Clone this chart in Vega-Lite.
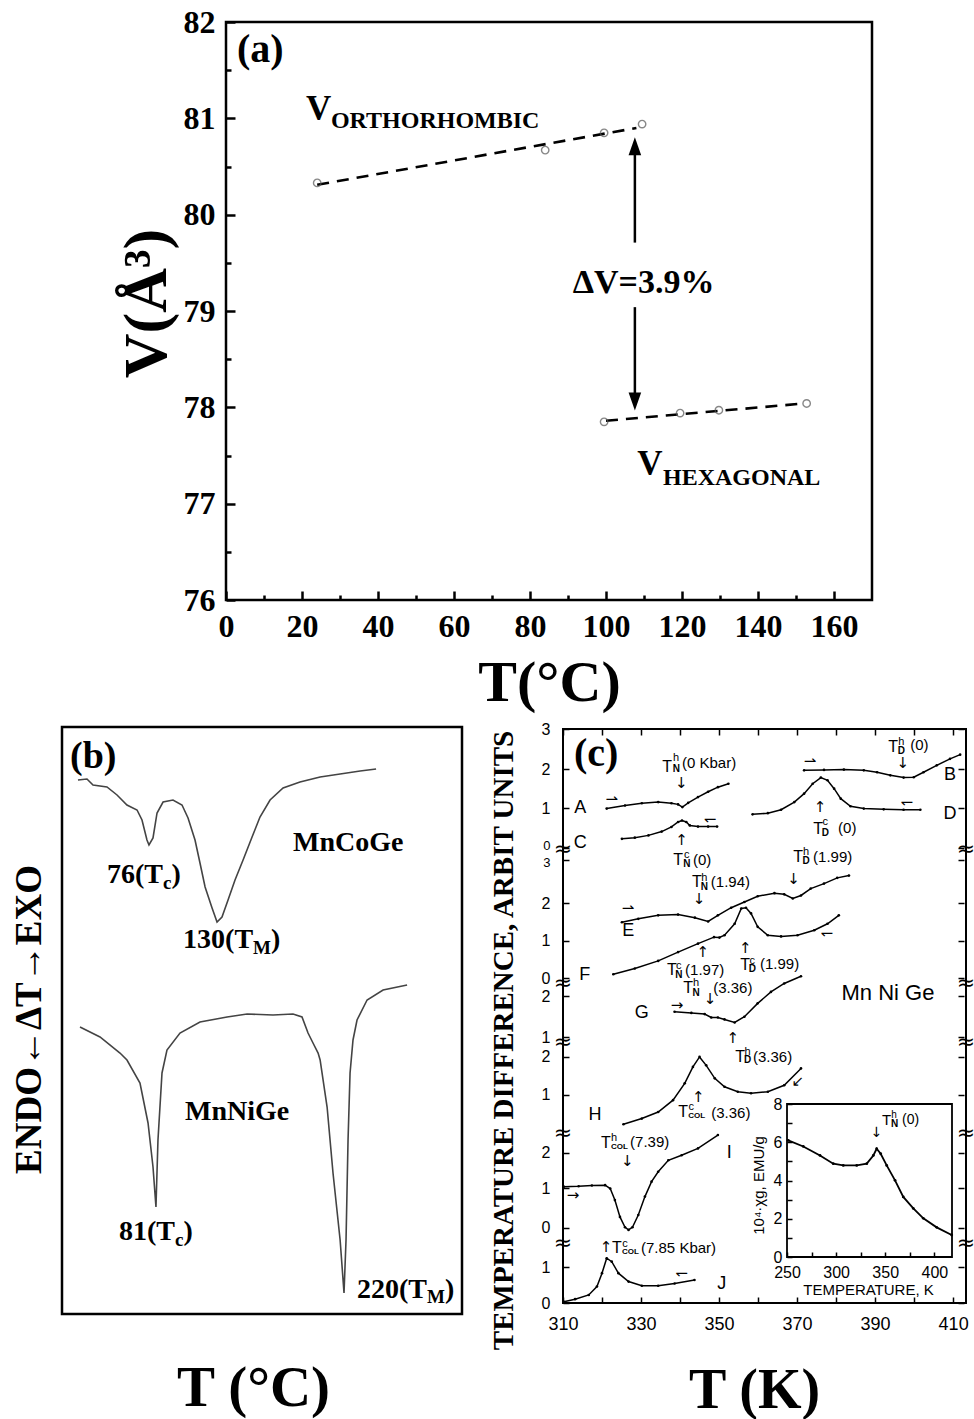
{
"$schema": "https://vega.github.io/schema/vega-lite/v6.json",
"width": 974, "height": 1419,
"autosize": {"type": "fit", "contains": "padding"},
"padding": 0,
"background": "white",
"config": {"view": {"stroke": null}, "axis": {"grid": false, "labelFlush": false, "labelOverlap": false, "labelColor": "black", "tickColor": "black", "titleColor": "black", "domainColor": "black"}},
"datasets": {
 "aPts": [
  {"T":24,"V":80.33,"phase":"ortho"},{"T":84,"V":80.67,"phase":"ortho"},{"T":99.5,"V":80.85,"phase":"ortho"},{"T":109.5,"V":80.94,"phase":"ortho"},
  {"T":99.5,"V":77.85,"phase":"hex"},{"T":119.5,"V":77.94,"phase":"hex"},{"T":129.7,"V":77.97,"phase":"hex"},{"T":152.8,"V":78.04,"phase":"hex"}],
 "aFit": [
  {"T":24,"V":80.31,"phase":"ortho"},{"T":108,"V":80.9,"phase":"ortho"},
  {"T":100,"V":77.86,"phase":"hex"},{"T":152,"V":78.04,"phase":"hex"}],
 "bCurves": [
  {"T":21.9,"v":90.97,"s":"MnCoGe"},{"T":28.6,"v":91.14,"s":"MnCoGe"},{"T":33.1,"v":90.12,"s":"MnCoGe"},{"T":43.5,"v":89.78,"s":"MnCoGe"},{"T":51.0,"v":88.42,"s":"MnCoGe"},{"T":58.4,"v":86.71,"s":"MnCoGe"},{"T":65.9,"v":85.86,"s":"MnCoGe"},{"T":69.6,"v":84.16,"s":"MnCoGe"},{"T":73.3,"v":80.75,"s":"MnCoGe"},{"T":74.8,"v":79.9,"s":"MnCoGe"},{"T":77.8,"v":81.09,"s":"MnCoGe"},{"T":80.8,"v":85.35,"s":"MnCoGe"},{"T":85.3,"v":87.22,"s":"MnCoGe"},{"T":92.7,"v":87.56,"s":"MnCoGe"},{"T":99.4,"v":86.71,"s":"MnCoGe"},{"T":103.9,"v":84.5,"s":"MnCoGe"},{"T":109.1,"v":80.75,"s":"MnCoGe"},{"T":112.8,"v":76.83,"s":"MnCoGe"},{"T":116.6,"v":72.74,"s":"MnCoGe"},{"T":121.8,"v":69.17,"s":"MnCoGe"},{"T":125.5,"v":66.78,"s":"MnCoGe"},{"T":129.2,"v":67.63,"s":"MnCoGe"},{"T":133.7,"v":70.53,"s":"MnCoGe"},{"T":138.9,"v":73.94,"s":"MnCoGe"},{"T":144.9,"v":77.34,"s":"MnCoGe"},{"T":151.6,"v":81.26,"s":"MnCoGe"},{"T":157.5,"v":84.67,"s":"MnCoGe"},{"T":165.0,"v":87.56,"s":"MnCoGe"},{"T":174.7,"v":89.61,"s":"MnCoGe"},{"T":187.3,"v":90.63,"s":"MnCoGe"},{"T":202.3,"v":91.48,"s":"MnCoGe"},{"T":217.2,"v":91.99,"s":"MnCoGe"},{"T":232.1,"v":92.5,"s":"MnCoGe"},{"T":244.0,"v":92.84,"s":"MnCoGe"},
  {"T":23.4,"v":48.89,"s":"MnNiGe"},{"T":38.3,"v":47.19,"s":"MnNiGe"},{"T":53.2,"v":44.46,"s":"MnNiGe"},{"T":58.4,"v":43.27,"s":"MnNiGe"},{"T":68.1,"v":39.35,"s":"MnNiGe"},{"T":74.1,"v":32.54,"s":"MnNiGe"},{"T":77.8,"v":25.04,"s":"MnNiGe"},{"T":80.0,"v":18.23,"s":"MnNiGe"},{"T":81.5,"v":29.64,"s":"MnNiGe"},{"T":84.5,"v":41.06,"s":"MnNiGe"},{"T":88.2,"v":44.97,"s":"MnNiGe"},{"T":97.9,"v":47.87,"s":"MnNiGe"},{"T":112.8,"v":49.74,"s":"MnNiGe"},{"T":133.0,"v":50.6,"s":"MnNiGe"},{"T":147.9,"v":51.11,"s":"MnNiGe"},{"T":167.2,"v":50.94,"s":"MnNiGe"},{"T":182.1,"v":51.11,"s":"MnNiGe"},{"T":188.8,"v":50.6,"s":"MnNiGe"},{"T":193.3,"v":47.87,"s":"MnNiGe"},{"T":197.0,"v":46.17,"s":"MnNiGe"},{"T":200.8,"v":44.46,"s":"MnNiGe"},{"T":202.3,"v":43.27,"s":"MnNiGe"},{"T":207.5,"v":35.26,"s":"MnNiGe"},{"T":211.9,"v":24.02,"s":"MnNiGe"},{"T":217.2,"v":12.61,"s":"MnNiGe"},{"T":220.1,"v":3.58,"s":"MnNiGe"},{"T":221.6,"v":12.61,"s":"MnNiGe"},{"T":223.1,"v":29.64,"s":"MnNiGe"},{"T":224.6,"v":41.06,"s":"MnNiGe"},{"T":226.8,"v":46.68,"s":"MnNiGe"},{"T":229.8,"v":50.09,"s":"MnNiGe"},{"T":237.3,"v":53.49,"s":"MnNiGe"},{"T":249.2,"v":55.2,"s":"MnNiGe"},{"T":267.1,"v":56.05,"s":"MnNiGe"}],
 "cCurves": [
  {"K":321.2,"g":12.92,"c":"A"},{"K":325.9,"g":13.0,"c":"A"},{"K":330.2,"g":13.06,"c":"A"},{"K":334.4,"g":13.09,"c":"A"},{"K":337.8,"g":13.06,"c":"A"},{"K":339.5,"g":13.03,"c":"A"},{"K":340.6,"g":12.96,"c":"A"},{"K":342.1,"g":13.07,"c":"A"},{"K":344.6,"g":13.22,"c":"A"},{"K":347.2,"g":13.36,"c":"A"},{"K":349.7,"g":13.48,"c":"A"},{"K":352.4,"g":13.57,"c":"A"},
  {"K":325.1,"g":12.13,"c":"C"},{"K":328.4,"g":12.16,"c":"C"},{"K":331.9,"g":12.22,"c":"C"},{"K":335.3,"g":12.32,"c":"C"},{"K":337.8,"g":12.44,"c":"C"},{"K":339.5,"g":12.57,"c":"C"},{"K":340.5,"g":12.61,"c":"C"},{"K":341.6,"g":12.57,"c":"C"},{"K":342.5,"g":12.48,"c":"C"},{"K":344.6,"g":12.45,"c":"C"},{"K":347.2,"g":12.45,"c":"C"},{"K":349.5,"g":12.45,"c":"C"},
  {"K":371.8,"g":13.92,"c":"B"},{"K":376.9,"g":13.93,"c":"B"},{"K":382.0,"g":13.94,"c":"B"},{"K":387.1,"g":13.92,"c":"B"},{"K":390.5,"g":13.87,"c":"B"},{"K":393.9,"g":13.79,"c":"B"},{"K":397.3,"g":13.73,"c":"B"},{"K":399.9,"g":13.74,"c":"B"},{"K":402.4,"g":13.87,"c":"B"},{"K":405.8,"g":14.05,"c":"B"},{"K":409.2,"g":14.22,"c":"B"},{"K":411.8,"g":14.33,"c":"B"},
  {"K":358.6,"g":12.77,"c":"D"},{"K":362.5,"g":12.8,"c":"D"},{"K":365.9,"g":12.89,"c":"D"},{"K":369.3,"g":13.09,"c":"D"},{"K":371.8,"g":13.31,"c":"D"},{"K":374.0,"g":13.57,"c":"D"},{"K":376.1,"g":13.73,"c":"D"},{"K":377.8,"g":13.66,"c":"D"},{"K":379.5,"g":13.44,"c":"D"},{"K":381.2,"g":13.18,"c":"D"},{"K":383.7,"g":12.98,"c":"D"},{"K":387.1,"g":12.92,"c":"D"},{"K":392.2,"g":12.9,"c":"D"},{"K":397.3,"g":12.89,"c":"D"},{"K":401.6,"g":12.89,"c":"D"},
  {"K":325.1,"g":9.95,"c":"E"},{"K":329.3,"g":10.04,"c":"E"},{"K":334.4,"g":10.13,"c":"E"},{"K":339.5,"g":10.15,"c":"E"},{"K":343.8,"g":10.07,"c":"E"},{"K":347.2,"g":9.97,"c":"E"},{"K":349.7,"g":10.13,"c":"E"},{"K":353.1,"g":10.33,"c":"E"},{"K":356.5,"g":10.48,"c":"E"},{"K":359.9,"g":10.63,"c":"E"},{"K":364.2,"g":10.71,"c":"E"},{"K":366.7,"g":10.68,"c":"E"},{"K":368.9,"g":10.57,"c":"E"},{"K":371.0,"g":10.65,"c":"E"},{"K":373.5,"g":10.83,"c":"E"},{"K":376.9,"g":10.96,"c":"E"},{"K":380.3,"g":11.11,"c":"E"},{"K":383.3,"g":11.17,"c":"E"},
  {"K":322.9,"g":8.59,"c":"F"},{"K":328.4,"g":8.74,"c":"F"},{"K":334.4,"g":8.94,"c":"F"},{"K":339.5,"g":9.17,"c":"F"},{"K":344.6,"g":9.39,"c":"F"},{"K":348.7,"g":9.56,"c":"F"},{"K":350.1,"g":9.55,"c":"F"},{"K":351.4,"g":9.61,"c":"F"},{"K":354.0,"g":9.91,"c":"F"},{"K":355.7,"g":10.31,"c":"F"},{"K":356.9,"g":10.33,"c":"F"},{"K":358.2,"g":10.18,"c":"F"},{"K":359.9,"g":9.83,"c":"F"},{"K":362.5,"g":9.61,"c":"F"},{"K":365.9,"g":9.58,"c":"F"},{"K":370.1,"g":9.61,"c":"F"},{"K":374.4,"g":9.74,"c":"F"},{"K":377.8,"g":9.91,"c":"F"},{"K":380.7,"g":10.13,"c":"F"},
  {"K":338.6,"g":7.61,"c":"G"},{"K":342.9,"g":7.58,"c":"G"},{"K":346.3,"g":7.55,"c":"G"},{"K":348.0,"g":7.46,"c":"G"},{"K":349.7,"g":7.46,"c":"G"},{"K":351.4,"g":7.41,"c":"G"},{"K":354.0,"g":7.33,"c":"G"},{"K":356.5,"g":7.48,"c":"G"},{"K":359.9,"g":7.83,"c":"G"},{"K":363.3,"g":8.13,"c":"G"},{"K":366.7,"g":8.35,"c":"G"},{"K":371.0,"g":8.54,"c":"G"},
  {"K":325.5,"g":4.67,"c":"H"},{"K":330.2,"g":4.82,"c":"H"},{"K":334.4,"g":4.99,"c":"H"},{"K":338.2,"g":5.3,"c":"H"},{"K":341.2,"g":5.74,"c":"H"},{"K":343.3,"g":6.17,"c":"H"},{"K":345.0,"g":6.43,"c":"H"},{"K":346.7,"g":6.21,"c":"H"},{"K":348.9,"g":5.87,"c":"H"},{"K":351.4,"g":5.65,"c":"H"},{"K":354.8,"g":5.52,"c":"H"},{"K":358.2,"g":5.48,"c":"H"},{"K":362.5,"g":5.52,"c":"H"},{"K":366.7,"g":5.69,"c":"H"},{"K":371.0,"g":6.13,"c":"H"},
  {"K":310.2,"g":3.04,"c":"I"},{"K":314.0,"g":3.05,"c":"I"},{"K":317.4,"g":3.07,"c":"I"},{"K":320.8,"g":3.08,"c":"I"},{"K":322.1,"g":2.99,"c":"I"},{"K":323.3,"g":2.69,"c":"I"},{"K":324.6,"g":2.25,"c":"I"},{"K":325.9,"g":1.98,"c":"I"},{"K":326.8,"g":1.91,"c":"I"},{"K":327.8,"g":1.98,"c":"I"},{"K":329.3,"g":2.3,"c":"I"},{"K":331.0,"g":2.78,"c":"I"},{"K":332.7,"g":3.17,"c":"I"},{"K":334.4,"g":3.43,"c":"I"},{"K":337.0,"g":3.73,"c":"I"},{"K":340.4,"g":3.86,"c":"I"},{"K":344.6,"g":4.04,"c":"I"},{"K":349.7,"g":4.39,"c":"I"},
  {"K":310.2,"g":0.03,"c":"J"},{"K":313.1,"g":0.1,"c":"J"},{"K":316.6,"g":0.21,"c":"J"},{"K":318.7,"g":0.43,"c":"J"},{"K":320.0,"g":0.78,"c":"J"},{"K":321.2,"g":1.17,"c":"J"},{"K":322.5,"g":1.08,"c":"J"},{"K":324.2,"g":0.78,"c":"J"},{"K":326.8,"g":0.56,"c":"J"},{"K":330.2,"g":0.45,"c":"J"},{"K":334.4,"g":0.45,"c":"J"},{"K":338.6,"g":0.51,"c":"J"},{"K":343.7,"g":0.6,"c":"J"}],
 "inset": [
  {"K":251.3,"chi":6.1},{"K":266.6,"chi":5.78},{"K":283.6,"chi":5.31},{"K":297.1,"chi":4.88},{"K":307.3,"chi":4.79},{"K":321.0,"chi":4.79},{"K":331.2,"chi":4.88},{"K":337.9,"chi":5.31},{"K":341.3,"chi":5.66},{"K":345.4,"chi":5.4},{"K":351.5,"chi":4.79},{"K":360.0,"chi":4.01},{"K":368.4,"chi":3.14},{"K":378.6,"chi":2.54},{"K":388.8,"chi":2.02},{"K":402.4,"chi":1.55},{"K":417.7,"chi":1.15}],
 "cT": [
  {"K":336.7,"g":14.01,"t":"T"},{"K":394.6,"g":14.53,"t":"T"},{"K":375.4,"g":12.39,"t":"T"},{"K":339.5,"g":11.58,"t":"T"},{"K":370.3,"g":11.66,"t":"T"},{"K":344.3,"g":11.01,"t":"T"},{"K":337.9,"g":8.7,"t":"T"},{"K":356.7,"g":8.83,"t":"T"},{"K":342.1,"g":8.22,"t":"T"},{"K":355.4,"g":6.44,"t":"T"},{"K":340.8,"g":5.0,"t":"T"},{"K":321.0,"g":4.19,"t":"T"},{"K":323.8,"g":1.43,"t":"T"}],
 "cSup": [
  {"K":339.0,"g":14.24,"t":"h"},{"K":396.7,"g":14.67,"t":"h"},{"K":377.2,"g":12.57,"t":"c"},{"K":341.7,"g":11.71,"t":"c"},{"K":372.3,"g":11.78,"t":"h"},{"K":346.2,"g":11.11,"t":"h"},{"K":339.7,"g":8.81,"t":"c"},{"K":358.5,"g":8.94,"t":"c"},{"K":344.1,"g":8.35,"t":"h"},{"K":357.3,"g":6.57,"t":"h"},{"K":342.9,"g":5.11,"t":"c"},{"K":323.1,"g":4.3,"t":"h"},{"K":325.9,"g":1.54,"t":"c"}],
 "cSub": [
  {"K":338.1,"g":13.95,"t":"N"},{"K":395.8,"g":14.42,"t":"D"},{"K":376.3,"g":12.28,"t":"D"},{"K":340.8,"g":11.47,"t":"N"},{"K":371.4,"g":11.56,"t":"D"},{"K":345.3,"g":10.88,"t":"N"},{"K":338.8,"g":8.57,"t":"N"},{"K":357.6,"g":8.72,"t":"D"},{"K":343.2,"g":8.09,"t":"N"},{"K":356.4,"g":6.35,"t":"D"}],
 "cSubCol": [
  {"K":342.1,"g":4.89,"t":"COL"},{"K":322.3,"g":4.08,"t":"COL"},{"K":325.1,"g":1.32,"t":"COL"}],
 "cRest": [
  {"K":340.5,"g":14.12,"t":"(0 Kbar)"},{"K":399.0,"g":14.58,"t":"(0)"},{"K":380.5,"g":12.41,"t":"(0)"},{"K":343.3,"g":11.58,"t":"(0)"},{"K":374.1,"g":11.66,"t":"(1.99)"},{"K":347.9,"g":11.01,"t":"(1.94)"},{"K":341.3,"g":8.7,"t":"(1.97)"},{"K":360.5,"g":8.86,"t":"(1.99)"},{"K":348.5,"g":8.22,"t":"(3.36)"},{"K":358.7,"g":6.44,"t":"(3.36)"},{"K":348.0,"g":4.96,"t":"(3.36)"},{"K":327.2,"g":4.21,"t":"(7.39)"},{"K":330.0,"g":1.43,"t":"(7.85 Kbar)"}],
 "cLetters": [
  {"K":314.4,"g":12.93,"t":"A"},{"K":314.4,"g":12.02,"t":"C"},{"K":409.2,"g":13.8,"t":"B"},{"K":409.2,"g":12.78,"t":"D"},{"K":326.7,"g":9.72,"t":"E"},{"K":315.6,"g":8.57,"t":"F"},{"K":330.2,"g":7.57,"t":"G"},{"K":318.2,"g":4.91,"t":"H"},{"K":352.6,"g":3.91,"t":"I"},{"K":350.7,"g":0.5,"t":"J"}],
 "cArrows": [
  {"K":340.3,"g":13.58,"t":"↓"},{"K":397.1,"g":14.1,"t":"↓"},{"K":369.1,"g":11.08,"t":"↓"},{"K":344.9,"g":10.56,"t":"↓"},{"K":347.7,"g":7.94,"t":"↓"},{"K":326.5,"g":3.72,"t":"↓"},
  {"K":375.9,"g":12.97,"t":"↑"},{"K":340.4,"g":12.1,"t":"↑"},{"K":345.8,"g":9.17,"t":"↑"},{"K":356.7,"g":9.28,"t":"↑"},{"K":353.5,"g":6.92,"t":"↑"},{"K":344.7,"g":5.38,"t":"↑"},{"K":321.0,"g":1.46,"t":"↑"},
  {"K":322.5,"g":13.16,"t":"⇀"},{"K":373.3,"g":14.17,"t":"⇀"},{"K":326.7,"g":10.32,"t":"⇀"},{"K":398.1,"g":13.1,"t":"↽"},{"K":347.7,"g":12.66,"t":"↽"},{"K":377.6,"g":9.68,"t":"↽"},{"K":340.4,"g":0.78,"t":"↽"},{"K":339.2,"g":7.79,"t":"→"},{"K":312.6,"g":2.82,"t":"→"},{"K":370.2,"g":5.8,"t":"↙"}],
 "cBreaks": [
  {"K":310,"g":11.86},{"K":310,"g":8.36},{"K":310,"g":6.82},{"K":310,"g":4.44},{"K":310,"g":1.57},
  {"K":413.3,"g":11.86},{"K":413.3,"g":8.36},{"K":413.3,"g":6.82},{"K":413.3,"g":4.44},{"K":413.3,"g":1.57}]
},
"layer": [
 {
  "layer": [
   {"data": {"values": [{"T0":0,"T1":170,"V0":76,"V1":82}]},
    "mark": {"type":"rect","filled":false,"stroke":"black","strokeWidth":2.5},
    "encoding": {
     "x": {"field":"T0","type":"quantitative","scale":{"domain":[0,170],"range":[226,872],"nice":false,"zero":false},
       "axis":{"orient":"bottom","offset":-819,"values":[0,10,20,30,40,50,60,70,80,90,100,110,120,130,140,150,160],
        "labelExpr":"datum.value % 20 === 0 ? format(datum.value, 'd') : ''",
        "tickSize":{"condition":{"test":"datum.value % 20 === 0","value":-9},"value":-5},
        "tickWidth":2.5,"domain":false,
        "labelFont":"Liberation Serif","labelFontWeight":"bold","labelFontSize":32,"labelPadding":20,
        "title":"T(°C)","titleFont":"Liberation Serif","titleFontWeight":"bold","titleFontSize":58,"titleBaseline":"alphabetic","titleX":549,"titleY":100}},
     "x2": {"field":"T1"},
     "y": {"field":"V0","type":"quantitative","scale":{"domain":[76,82],"range":[600,22],"nice":false,"zero":false},
       "axis":{"orient":"left","offset":-226,"values":[76,76.5,77,77.5,78,78.5,79,79.5,80,80.5,81,81.5,82],
        "labelExpr":"datum.value % 1 === 0 ? format(datum.value, 'd') : ''",
        "tickSize":{"condition":{"test":"datum.value % 1 === 0","value":-9},"value":-5},
        "tickWidth":2.5,"domain":false,
        "labelFont":"Liberation Serif","labelFontWeight":"bold","labelFontSize":32,"labelPadding":20,
        "title":"V(Å³)","titleFont":"Liberation Serif","titleFontWeight":"bold","titleFontSize":62,"titleAngle":270,"titleBaseline":"alphabetic","titleX":-61,"titleY":303}},
     "y2": {"field":"V1"}
    }},
   {"data": {"name":"aFit"},
    "mark": {"type":"line","color":"black","strokeWidth":2.6,"strokeDash":[12,8]},
    "encoding": {"x":{"field":"T","type":"quantitative"},"y":{"field":"V","type":"quantitative"},"detail":{"field":"phase"}}},
   {"data": {"name":"aPts"},
    "mark": {"type":"point","shape":"circle","filled":false,"color":"#555555","size":55,"strokeWidth":1.4},
    "encoding": {"x":{"field":"T","type":"quantitative"},"y":{"field":"V","type":"quantitative"}}},
   {"data": {"values":[{"T":107.6,"V1":79.71,"V2":80.71},{"T":107.6,"V1":79.04,"V2":78.06}]},
    "mark": {"type":"rule","color":"black","strokeWidth":2.5},
    "encoding": {"x":{"field":"T","type":"quantitative"},"y":{"field":"V1","type":"quantitative"},"y2":{"field":"V2"}}},
   {"data": {"values":[{"T":107.6,"V":80.71,"dir":"up"},{"T":107.6,"V":78.06,"dir":"down"}]},
    "mark": {"type":"point","filled":true,"color":"black","size":324,"opacity":1},
    "encoding": {"x":{"field":"T","type":"quantitative"},"y":{"field":"V","type":"quantitative"},
      "shape":{"field":"dir","type":"nominal","scale":{"domain":["up","down"],"range":["M0,-1L-0.7,1L0.7,1Z","M0,1L-0.7,-1L0.7,-1Z"]},"legend":null}}},
   {"data": {"values":[{"T":2.9,"V":81.71,"t":"(a)"}]},
    "mark": {"type":"text","font":"Liberation Serif","fontWeight":"bold","fontSize":40,"align":"left","baseline":"middle","color":"black"},
    "encoding": {"x":{"field":"T","type":"quantitative"},"y":{"field":"V","type":"quantitative"},"text":{"field":"t"}}},
   {"data": {"values":[{"T":21.05,"V":80.983,"t":"V"},{"T":108.2,"V":77.297,"t":"V"}]},
    "mark": {"type":"text","font":"Liberation Serif","fontWeight":"bold","fontSize":35,"align":"left","baseline":"alphabetic","color":"black"},
    "encoding": {"x":{"field":"T","type":"quantitative"},"y":{"field":"V","type":"quantitative"},"text":{"field":"t"}}},
   {"data": {"values":[{"T":27.6,"V":80.9,"t":"ORTHORHOMBIC"},{"T":115.0,"V":77.193,"t":"HEXAGONAL"}]},
    "mark": {"type":"text","font":"Liberation Serif","fontWeight":"bold","fontSize":24,"align":"left","baseline":"alphabetic","color":"black"},
    "encoding": {"x":{"field":"T","type":"quantitative"},"y":{"field":"V","type":"quantitative"},"text":{"field":"t"}}},
   {"data": {"values":[{"T":109.9,"V":79.19,"t":"ΔV=3.9%"}]},
    "mark": {"type":"text","font":"Liberation Serif","fontWeight":"bold","fontSize":34,"align":"center","baseline":"alphabetic","color":"black"},
    "encoding": {"x":{"field":"T","type":"quantitative"},"y":{"field":"V","type":"quantitative"},"text":{"field":"t"}}}
  ]
 },
 {
  "layer": [
   {"data": {"values": [{"T0":10,"T1":308,"v0":0,"v1":100}]},
    "mark": {"type":"rect","filled":false,"stroke":"black","strokeWidth":2.5},
    "encoding": {
     "x": {"field":"T0","type":"quantitative","scale":{"domain":[10,308],"range":[62,462],"nice":false,"zero":false},
       "axis":{"orient":"bottom","offset":-105,"ticks":false,"labels":false,"domain":false,
        "title":"T (°C)","titleFont":"Liberation Serif","titleFontWeight":"bold","titleFontSize":57,"titleBaseline":"alphabetic","titleX":253,"titleY":91}},
     "x2": {"field":"T1"},
     "y": {"field":"v0","type":"quantitative","scale":{"domain":[0,100],"range":[1314,727],"nice":false,"zero":false},
       "axis":{"orient":"left","offset":-62,"ticks":false,"labels":false,"domain":false,
        "title":"ENDO←ΔT→EXO","titleFont":"Liberation Serif","titleFontWeight":"bold","titleFontSize":37,"titleAngle":270,"titleBaseline":"alphabetic","titleX":-22,"titleY":1019}},
     "y2": {"field":"v1"}
    }},
   {"data": {"name":"bCurves"},
    "mark": {"type":"line","color":"#444444","strokeWidth":1.6},
    "encoding": {"x":{"field":"T","type":"quantitative"},"y":{"field":"v","type":"quantitative"},"detail":{"field":"s"}}},
   {"data": {"values":[{"T":16.0,"v":94.9,"t":"(b)"}]},
    "mark": {"type":"text","font":"Liberation Serif","fontWeight":"bold","fontSize":38,"align":"left","baseline":"middle","color":"black"},
    "encoding": {"x":{"field":"T","type":"quantitative"},"y":{"field":"v","type":"quantitative"},"text":{"field":"t"}}},
   {"data": {"values":[{"T":182.1,"v":80.24,"t":"MnCoGe"},{"T":101.7,"v":34.4,"t":"MnNiGe"},
      {"T":43.5,"v":74.8,"t":"76(T"},{"T":100.2,"v":63.7,"t":"130(T"},{"T":52.5,"v":14.0,"t":"81(T"},{"T":229.8,"v":4.1,"t":"220(T"},
      {"T":91.5,"v":74.8,"t":")"},{"T":165.7,"v":63.7,"t":")"},{"T":100.5,"v":14.0,"t":")"},{"T":295.4,"v":4.1,"t":")"}]},
    "mark": {"type":"text","font":"Liberation Serif","fontWeight":"bold","fontSize":28,"align":"left","baseline":"middle","color":"black"},
    "encoding": {"x":{"field":"T","type":"quantitative"},"y":{"field":"v","type":"quantitative"},"text":{"field":"t"}}},
   {"data": {"values":[{"T":85.3,"v":73.4,"t":"c"},{"T":152.3,"v":62.4,"t":"M"},{"T":94.2,"v":12.6,"t":"c"},{"T":282.0,"v":2.9,"t":"M"}]},
    "mark": {"type":"text","font":"Liberation Serif","fontWeight":"bold","fontSize":19,"align":"left","baseline":"middle","color":"black"},
    "encoding": {"x":{"field":"T","type":"quantitative"},"y":{"field":"v","type":"quantitative"},"text":{"field":"t"}}}
  ]
 },
 {
  "layer": [
   {"data": {"values": [{"K0":310,"K1":413.3,"g0":0,"g1":15}]},
    "mark": {"type":"rect","filled":false,"stroke":"black","strokeWidth":2},
    "encoding": {
     "x": {"field":"K0","type":"quantitative","scale":{"domain":[310,413.3],"range":[563,966],"nice":false,"zero":false},
       "axis":{"orient":"bottom","offset":-116,"values":[310,320,330,340,350,360,370,380,390,400,410],
        "labelExpr":"(datum.value - 310) % 20 === 0 ? datum.label : ''",
        "tickSize":-6,"tickWidth":1.5,"domain":false,
        "labelFont":"Liberation Sans","labelFontSize":18,"labelPadding":18,
        "title":"T (K)","titleFont":"Liberation Serif","titleFontWeight":"bold","titleFontSize":56,"titleBaseline":"alphabetic","titleX":754,"titleY":104}},
     "x2": {"field":"K1"},
     "y": {"field":"g0","type":"quantitative","scale":{"domain":[0,15],"range":[1303,729],"nice":false,"zero":false},
       "axis":{"orient":"left","offset":-563,"values":[0,0.94,1.96,3,3.92,5.44,6.43,6.95,8.02,8.49,9.46,10.45,11.58,11.89,12.93,13.95,15],
        "labelExpr":"['0','1','0','1','2','1','2','1','2','0','1','2','3','0','1','2','3'][indexof([0,0.94,1.96,3,3.92,5.44,6.43,6.95,8.02,8.49,9.46,10.45,11.58,11.89,12.93,13.95,15], datum.value)]",
        "tickSize":-6,"tickWidth":1.5,"domain":false,
        "labelFont":"Liberation Sans",
        "labelFontSize":{"condition":{"test":"datum.value === 11.58 || datum.value === 11.89","value":13},"value":16},
        "labelOffset":{"condition":[{"test":"datum.value === 11.89","value":-3},{"test":"datum.value === 11.58","value":3}],"value":0},
        "labelPadding":19,
        "title":"TEMPERATURE DIFFERENCE, ARBIT UNITS","titleFont":"Liberation Serif","titleFontWeight":"bold","titleFontSize":29,"titleAngle":270,"titleBaseline":"alphabetic","titleX":-51,"titleY":1040}},
     "y2": {"field":"g1"}
    }},
   {"data": {"name":"cBreaks"},
    "mark": {"type":"text","text":"≈","font":"DejaVu Sans","fontSize":22,"align":"center","baseline":"middle","color":"black"},
    "encoding": {
     "x":{"field":"K","type":"quantitative","axis":{"orient":"top","offset":-729,"values":[310,320,330,340,350,360,370,380,390,400,410],"labels":false,"tickSize":-6,"tickWidth":1.5,"domain":false,"title":null}},
     "y":{"field":"g","type":"quantitative","axis":{"orient":"right","offset":-8,"values":[0,0.94,1.96,3,3.92,5.44,6.43,6.95,8.02,8.49,9.46,10.45,11.58,11.89,12.93,13.95,15],"labels":false,"tickSize":-6,"tickWidth":1.5,"domain":false,"title":null}}}},
   {"data": {"name":"cCurves"},
    "mark": {"type":"line","color":"black","strokeWidth":1.5,"point":{"filled":true,"size":7,"color":"black"}},
    "encoding": {"x":{"field":"K","type":"quantitative","axis":null},"y":{"field":"g","type":"quantitative","axis":null},"detail":{"field":"c"}}},
   {"data": {"name":"cT"},
    "mark": {"type":"text","font":"Liberation Sans","fontSize":16,"align":"center","baseline":"middle","color":"black"},
    "encoding": {"x":{"field":"K","type":"quantitative","axis":null},"y":{"field":"g","type":"quantitative","axis":null},"text":{"field":"t"}}},
   {"data": {"name":"cSup"},
    "mark": {"type":"text","font":"Liberation Sans","fontSize":11,"align":"center","baseline":"middle","color":"black"},
    "encoding": {"x":{"field":"K","type":"quantitative","axis":null},"y":{"field":"g","type":"quantitative","axis":null},"text":{"field":"t"}}},
   {"data": {"name":"cSub"},
    "mark": {"type":"text","font":"Liberation Sans","fontSize":10,"fontWeight":"bold","align":"left","baseline":"middle","color":"black"},
    "encoding": {"x":{"field":"K","type":"quantitative","axis":null},"y":{"field":"g","type":"quantitative","axis":null},"text":{"field":"t"}}},
   {"data": {"name":"cSubCol"},
    "mark": {"type":"text","font":"Liberation Sans","fontSize":8,"fontWeight":"bold","align":"left","baseline":"middle","color":"black"},
    "encoding": {"x":{"field":"K","type":"quantitative","axis":null},"y":{"field":"g","type":"quantitative","axis":null},"text":{"field":"t"}}},
   {"data": {"name":"cRest"},
    "mark": {"type":"text","font":"Liberation Sans","fontSize":15,"align":"left","baseline":"middle","color":"black"},
    "encoding": {"x":{"field":"K","type":"quantitative","axis":null},"y":{"field":"g","type":"quantitative","axis":null},"text":{"field":"t"}}},
   {"data": {"name":"cLetters"},
    "mark": {"type":"text","font":"Liberation Sans","fontSize":18,"align":"center","baseline":"middle","color":"black"},
    "encoding": {"x":{"field":"K","type":"quantitative","axis":null},"y":{"field":"g","type":"quantitative","axis":null},"text":{"field":"t"}}},
   {"data": {"name":"cArrows"},
    "mark": {"type":"text","font":"DejaVu Sans","fontSize":15,"align":"center","baseline":"middle","color":"black"},
    "encoding": {"x":{"field":"K","type":"quantitative","axis":null},"y":{"field":"g","type":"quantitative","axis":null},"text":{"field":"t"}}},
   {"data": {"values":[{"K":393.3,"g":8.1,"t":"Mn Ni Ge"}]},
    "mark": {"type":"text","font":"Liberation Sans","fontSize":22,"align":"center","baseline":"middle","color":"black"},
    "encoding": {"x":{"field":"K","type":"quantitative","axis":null},"y":{"field":"g","type":"quantitative","axis":null},"text":{"field":"t"}}},
   {"data": {"values":[{"K":318.5,"g":14.35,"t":"(c)"}]},
    "mark": {"type":"text","font":"Liberation Serif","fontWeight":"bold","fontSize":40,"align":"center","baseline":"middle","color":"black"},
    "encoding": {"x":{"field":"K","type":"quantitative","axis":null},"y":{"field":"g","type":"quantitative","axis":null},"text":{"field":"t"}}}
  ],
  "resolve": {"axis": {"x":"independent","y":"independent"}}
 },
 {
  "layer": [
   {"data": {"values": [{"K0":250,"K1":418,"c0":0,"c1":8}]},
    "mark": {"type":"rect","filled":false,"stroke":"black","strokeWidth":1.8},
    "encoding": {
     "x": {"field":"K0","type":"quantitative","scale":{"domain":[250,418],"range":[787,952],"nice":false,"zero":false},
       "axis":{"orient":"bottom","offset":-162,"values":[250,275,300,325,350,375,400],
        "labelExpr":"datum.value % 50 === 0 ? format(datum.value, 'd') : ''",
        "tickSize":-5,"tickWidth":1.5,"domain":false,
        "labelFont":"Liberation Sans","labelFontSize":16,"labelPadding":12,
        "title":"TEMPERATURE, K","titleFont":"Liberation Sans","titleFontWeight":"normal","titleFontSize":15,"titleBaseline":"alphabetic","titleX":868,"titleY":37}},
     "x2": {"field":"K1"},
     "y": {"field":"c0","type":"quantitative","scale":{"domain":[0,8],"range":[1257,1104],"nice":false,"zero":false},
       "axis":{"orient":"left","offset":-787,"values":[0,1,2,3,4,5,6,7,8],
        "labelExpr":"datum.value % 2 === 0 ? format(datum.value, 'd') : ''",
        "tickSize":-5,"tickWidth":1.5,"domain":false,
        "labelFont":"Liberation Sans","labelFontSize":16,"labelPadding":10,
        "title":"10⁴·χg, EMU/g","titleFont":"Liberation Sans","titleFontWeight":"normal","titleFontSize":15,"titleAngle":270,"titleBaseline":"alphabetic","titleX":-24,"titleY":1185}},
     "y2": {"field":"c1"}
    }},
   {"data": {"name":"inset"},
    "mark": {"type":"line","color":"black","strokeWidth":1.8,"point":{"filled":true,"size":8,"color":"black"}},
    "encoding": {"x":{"field":"K","type":"quantitative"},"y":{"field":"chi","type":"quantitative"}}},
   {"data": {"values":[{"K":351.5,"chi":7.16,"t":"T"}]},
    "mark": {"type":"text","font":"Liberation Sans","fontSize":15,"align":"center","baseline":"middle","color":"black"},
    "encoding": {"x":{"field":"K","type":"quantitative"},"y":{"field":"chi","type":"quantitative"},"text":{"field":"t"}}},
   {"data": {"values":[{"K":359.0,"chi":7.42,"t":"h"}]},
    "mark": {"type":"text","font":"Liberation Sans","fontSize":10,"align":"center","baseline":"middle","color":"black"},
    "encoding": {"x":{"field":"K","type":"quantitative"},"y":{"field":"chi","type":"quantitative"},"text":{"field":"t"}}},
   {"data": {"values":[{"K":355.9,"chi":6.95,"t":"N"}]},
    "mark": {"type":"text","font":"Liberation Sans","fontSize":10,"fontWeight":"bold","align":"left","baseline":"middle","color":"black"},
    "encoding": {"x":{"field":"K","type":"quantitative"},"y":{"field":"chi","type":"quantitative"},"text":{"field":"t"}}},
   {"data": {"values":[{"K":367.1,"chi":7.16,"t":"(0)"}]},
    "mark": {"type":"text","font":"Liberation Sans","fontSize":14,"align":"left","baseline":"middle","color":"black"},
    "encoding": {"x":{"field":"K","type":"quantitative"},"y":{"field":"chi","type":"quantitative"},"text":{"field":"t"}}},
   {"data": {"values":[{"K":341.3,"chi":6.48,"t":"↓"}]},
    "mark": {"type":"text","font":"DejaVu Sans","fontSize":14,"align":"center","baseline":"middle","color":"black"},
    "encoding": {"x":{"field":"K","type":"quantitative"},"y":{"field":"chi","type":"quantitative"},"text":{"field":"t"}}}
  ]
 }
],
"resolve": {"scale": {"x":"independent","y":"independent"}, "axis": {"x":"independent","y":"independent"}}
}
